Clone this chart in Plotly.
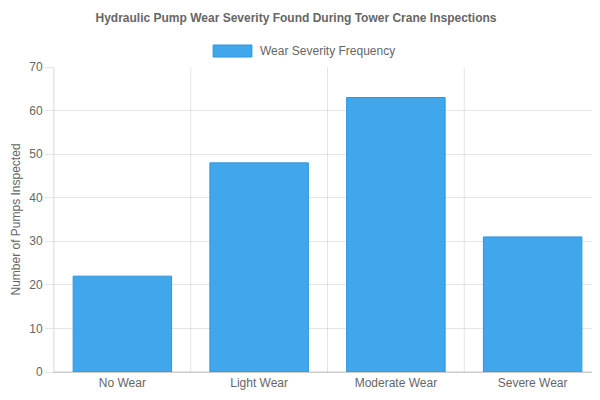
import plotly.graph_objects as go

categories = ["No Wear", "Light Wear", "Moderate Wear", "Severe Wear"]
counts = [22, 48, 63, 31]
series_name = "Wear Severity Frequency"

FONT = "Liberation Sans, Arial, sans-serif"
GREY = "#666666"
GRID = "rgba(0,0,0,0.1)"

fig = go.Figure(
    go.Bar(
        x=categories,
        y=counts,
        name=series_name,
        width=0.72,
        marker=dict(color="rgba(54,162,235,0.95)", line=dict(color="#2f95dc", width=1)),
        showlegend=False,
    )
)

# vertical grid lines at category boundaries
shapes = []
for i in range(len(categories) + 1):
    shapes.append(dict(type="line", xref="x", yref="paper", x0=i - 0.5, x1=i - 0.5,
                       y0=0, y1=1, line=dict(color=GRID, width=1), layer="below"))
# legend box
shapes.append(dict(type="rect", xref="paper", yref="paper", x0=(210 - 50) / 550, x1=(249 - 50) / 550,
                   y0=1 + 10 / 305, y1=1 + 22 / 305, fillcolor="rgba(54,162,235,0.95)",
                   line=dict(color="#2f95dc", width=1)))

fig.update_layout(
    width=600, height=400,
    margin=dict(l=43, r=7, t=59, b=36),
    paper_bgcolor="white", plot_bgcolor="white",
    font=dict(family=FONT, size=12, color=GREY),
    title=dict(text="<b>Hydraulic Pump Wear Severity Found During Tower Crane Inspections</b>",
               x=0.48, xanchor="center", y=1 - 10 / 400, yanchor="middle",
               font=dict(size=12, color=GREY, family=FONT)),
    shapes=shapes,
    annotations=[dict(text=series_name, xref="paper", yref="paper", x=(255 - 50) / 550,
                      y=1 + 16 / 305, xanchor="left", yanchor="middle", showarrow=False,
                      font=dict(size=12, color=GREY))],
    bargap=0.28,
)
fig.update_xaxes(range=[-0.5, 3.5], showgrid=False, showline=True, linecolor=GRID,
                 ticks="outside", ticklen=0, tickfont=dict(size=12, color=GREY))
fig.update_yaxes(range=[0, 70], dtick=10, gridcolor=GRID, zeroline=True, zerolinecolor=GRID,
                 showline=True, linecolor=GRID, ticks="outside", ticklen=8, tickcolor=GRID,
                 title=dict(text="Number of Pumps Inspected", font=dict(size=12, color=GREY), standoff=6),
                 tickfont=dict(size=12, color=GREY))

fig.write_html("out.html")
